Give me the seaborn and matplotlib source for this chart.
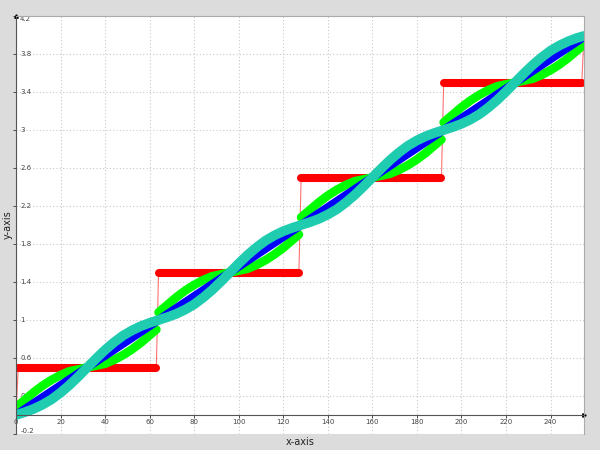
import numpy as np
import pandas as pd
import matplotlib
matplotlib.use("Agg")
import matplotlib.pyplot as plt
import seaborn as sns

# staircase (red): break points of the steps
red_x = [0, 1, 63, 64, 127, 128, 191, 192, 254, 255]
red_y = [0.0, 0.5, 0.5, 1.5, 1.5, 2.5, 2.5, 3.5, 3.5, 4.0]

# straight ramp (blue)
blue_x = [0, 64, 128, 192, 255]
blue_y = [0.0, 1.0, 2.0, 3.0, 3.98]

# wavy curve (turquoise), sampled every 4 units + last point
cyan_x = list(range(0, 253, 4)) + [255]
cyan_y = [0.000, 0.030, 0.065, 0.110, 0.165, 0.235, 0.315, 0.405, 0.500, 0.595, 0.685, 0.765, 0.835, 0.890, 0.935, 0.970,
          1.000, 1.030, 1.065, 1.110, 1.165, 1.235, 1.315, 1.405, 1.500, 1.595, 1.685, 1.765, 1.835, 1.890, 1.935, 1.970,
          2.000, 2.030, 2.065, 2.110, 2.165, 2.235, 2.315, 2.405, 2.500, 2.595, 2.685, 2.765, 2.835, 2.890, 2.935, 2.970,
          3.000, 3.030, 3.065, 3.110, 3.165, 3.235, 3.315, 3.405, 3.500, 3.595, 3.685, 3.765, 3.835, 3.890, 3.935, 3.970,
          3.990]

# green curve, one piece per step (it jumps at the step edges)
green_step = [0] * 17 + [1] * 17 + [2] * 17 + [3] * 17
green_x = [0, 4, 8, 12, 16, 20, 24, 28, 32, 36, 40, 44, 48, 52, 56, 60, 63,
           64, 68, 72, 76, 80, 84, 88, 92, 96, 100, 104, 108, 112, 116, 120, 124, 127,
           128, 132, 136, 140, 144, 148, 152, 156, 160, 164, 168, 172, 176, 180, 184, 188, 191,
           192, 196, 200, 204, 208, 212, 216, 220, 224, 228, 232, 236, 240, 244, 248, 252, 255]
green_y = [0.08, 0.16, 0.24, 0.31, 0.37, 0.42, 0.46, 0.48, 0.50, 0.52, 0.54, 0.58, 0.63, 0.69, 0.76, 0.84, 0.90,
           1.08, 1.16, 1.24, 1.31, 1.37, 1.42, 1.46, 1.48, 1.50, 1.52, 1.54, 1.58, 1.63, 1.69, 1.76, 1.84, 1.90,
           2.08, 2.16, 2.24, 2.31, 2.37, 2.42, 2.46, 2.48, 2.50, 2.52, 2.54, 2.58, 2.63, 2.69, 2.76, 2.84, 2.90,
           3.08, 3.16, 3.24, 3.31, 3.37, 3.42, 3.46, 3.48, 3.50, 3.52, 3.54, 3.58, 3.63, 3.69, 3.76, 3.84, 3.90]

y_ticks = [-0.2, 0.2, 0.6, 1.0, 1.4, 1.8, 2.2, 2.6, 3.0, 3.4, 3.8, 4.2]
x_ticks = list(range(0, 241, 20))

fig = plt.figure(figsize=(6, 4.5), dpi=100, facecolor="#dcdcdc")
ax = fig.add_axes([16 / 600, 16 / 450, 568 / 600, 418 / 450])
ax.set_facecolor("white")

# red: thin connecting line + thick flat runs
sns.lineplot(x=red_x, y=red_y, ax=ax, color="red", lw=0.8, alpha=0.55, legend=False)
red = pd.DataFrame({"x": red_x, "y": red_y})
red["run"] = (red["y"].diff() != 0).cumsum()
flat = red[red.groupby("run")["x"].transform("size") > 1]
sns.lineplot(data=flat, x="x", y="y", units="run", estimator=None, ax=ax,
             color="red", lw=5.8, solid_capstyle="round", legend=False)

green = pd.DataFrame({"x": green_x, "y": green_y, "step": green_step})
sns.lineplot(data=green, x="x", y="y", units="step", estimator=None, ax=ax,
             color="#00ff00", lw=6.3, solid_capstyle="round", legend=False)
sns.lineplot(x=blue_x, y=blue_y, ax=ax, color="#0000ff", lw=6.0,
             solid_capstyle="round", legend=False)
sns.lineplot(x=cyan_x, y=cyan_y, ax=ax, color="#20ccb0", lw=7.0,
             solid_capstyle="round", legend=False)

ax.set_xlim(0, 255)
ax.set_ylim(-0.2, 4.2)
ax.set_xticks(x_ticks)
ax.set_xticklabels([str(v) for v in x_ticks])
ax.set_yticks(y_ticks)
ax.set_yticklabels([f"{v:g}" for v in y_ticks])

ax.grid(True, color="#c8c8c8", linestyle=(0, (1, 2)), linewidth=0.8)
ax.set_axisbelow(True)

ax.spines["bottom"].set_position(("data", 0))
ax.spines["bottom"].set_color("#555555")
ax.spines["left"].set_color("#555555")
for s in ["top", "right"]:
    ax.spines[s].set_color("#aaaaaa")

ax.tick_params(axis="both", length=2, width=0.6, color="#333333",
               labelsize=5, labelcolor="#444444")
ax.tick_params(axis="x", pad=1)
ax.tick_params(axis="y", pad=-5)
plt.setp(ax.get_yticklabels(), ha="left")
ax.get_yticklabels()[0].set_va("bottom")
ax.get_yticklabels()[-1].set_va("top")

# small arrow heads at the axis ends
ax.plot(1, 0, marker=">", ms=2.5, color="black", transform=ax.get_yaxis_transform(), clip_on=False)
ax.plot(0, 1, marker="^", ms=2.5, color="black", transform=ax.get_xaxis_transform(), clip_on=False)

ax.set_xlabel("x-axis", fontsize=7, color="#222222")
ax.set_ylabel("y-axis", fontsize=7, color="#222222")
ax.xaxis.set_label_coords(0.5, -0.006)
ax.yaxis.set_label_coords(-0.006, 0.5)

fig.savefig("out.png", dpi=100, facecolor=fig.get_facecolor())
